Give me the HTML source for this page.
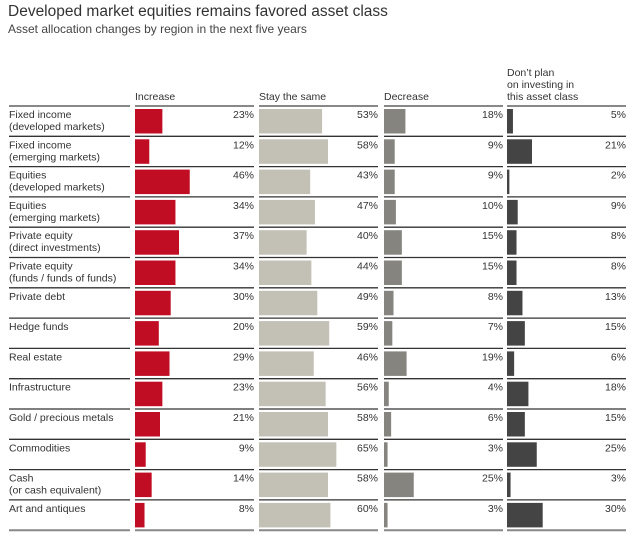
<!DOCTYPE html>
<html><head><meta charset="utf-8"><style>
body{margin:0;background:#fff;font-family:"Liberation Sans",sans-serif;color:#333;}
#wrap{position:relative;width:637px;height:537px;overflow:hidden;}
.t{position:absolute;white-space:nowrap;}
</style></head><body>
<div id="wrap">
<div class="t" style="left:8px;top:3px;font-size:15.5px;color:#333;">Developed market equities remains favored asset class</div>
<div class="t" style="left:8px;top:22px;font-size:12px;color:#444;">Asset allocation changes by region in the next five years</div>
<svg id="svg" width="637" height="537" style="position:absolute;left:0;top:0"></svg>
</div>
<script>
const categories=["Fixed income|(developed markets)","Fixed income|(emerging markets)","Equities|(developed markets)","Equities|(emerging markets)","Private equity|(direct investments)","Private equity|(funds / funds of funds)","Private debt","Hedge funds","Real estate","Infrastructure","Gold / precious metals","Commodities","Cash|(or cash equivalent)","Art and antiques"];
const increase=[23,12,46,34,37,34,30,20,29,23,21,9,14,8];
const staySame=[53,58,43,47,40,44,49,59,46,56,58,65,58,60];
const decrease=[18,9,9,10,15,15,8,7,19,4,6,3,25,3];
const dontPlan=[5,21,2,9,8,8,13,15,6,18,15,25,3,30];
const headers=["Increase","Stay the same","Decrease","Don\u2019t plan|on investing in|this asset class"];
const series=[increase,staySame,decrease,dontPlan];
const colors=["#c00d23","#c3c0b5","#85847e","#444444"];
const colX=[135,259,384,507], colW=119;
const rowTop=106, rowH=30.3, scale=1.19;
const NS="http://www.w3.org/2000/svg", svg=document.getElementById('svg');
function mk(tag,attrs){const e=document.createElementNS(NS,tag);for(const k in attrs)e.setAttribute(k,attrs[k]);svg.appendChild(e);return e;}
function xs(v){return v*scale;}
function yRow(i){return rowTop+i*rowH;}
// headers
headers.forEach((h,c)=>{const lines=h.split('|');lines.forEach((l,k)=>{
 const t=mk('text',{x:colX[c],y:100-(lines.length-1-k)*12,'font-size':10.5,fill:'#333','font-family':'Liberation Sans, sans-serif'});
 t.textContent=l;
 
 });});
const lineCols=[[9,130]].concat(colX.map(x=>[x,x+colW]));
for(let i=0;i<=categories.length;i++){
 const y=yRow(i);
 lineCols.forEach(([a,b])=>{
  const ln=mk('line',{x1:a,x2:b,y1:y,y2:y,stroke:(i==0||i==categories.length)?'#888':'#333','stroke-width':(i==0||i==categories.length)?2:1.3});
  
  
 });
}
categories.forEach((cat,i)=>{
 const y=yRow(i);
 cat.split('|').forEach((l,k)=>{
  const t=mk('text',{x:9,y:y+12+k*12,'font-size':10.5,fill:'#333','font-family':'Liberation Sans, sans-serif'});
  t.textContent=l;
  
  
 });
 series.forEach((s,c)=>{
  const r=mk('rect',{x:colX[c],y:y+3,width:xs(s[i]),height:24.5,fill:colors[c]});
  
  
  const t=mk('text',{x:colX[c]+colW,y:y+12,'font-size':10.5,fill:'#333','text-anchor':'end','font-family':'Liberation Sans, sans-serif'});
  t.textContent=s[i]+'%';
  
  
 });
});
</script>
</body></html>
